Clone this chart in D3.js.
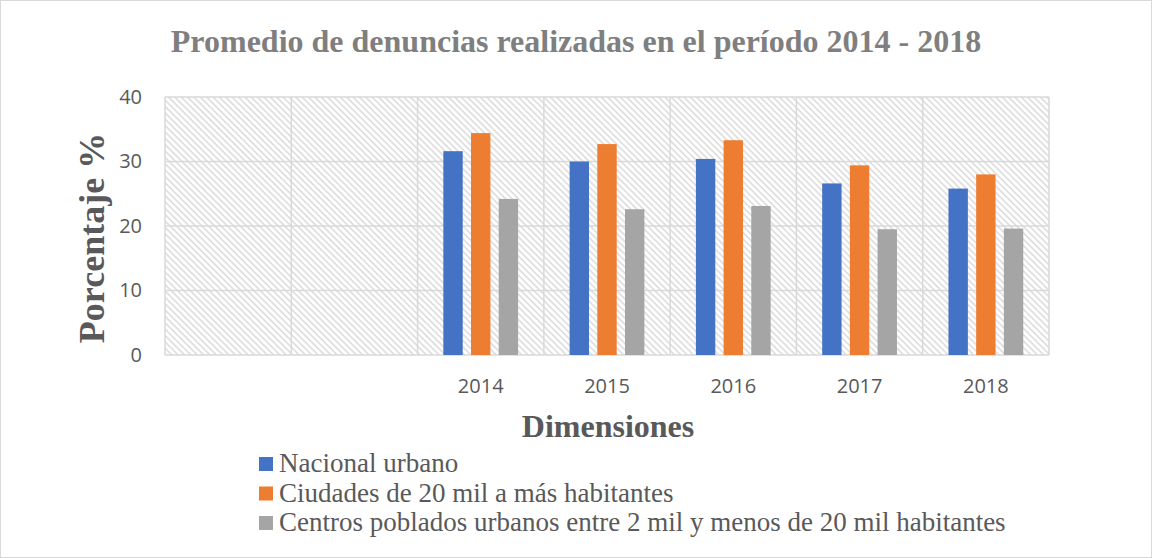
<!DOCTYPE html>
<html>
<head>
<meta charset="utf-8">
<script src="https://cdn.jsdelivr.net/npm/d3@7"></script>
<style>
  body { margin: 0; background: #fff; }
  svg { display: block; }
</style>
</head>
<body>
<script>
// categories (the first two are empty slots in the original chart)
var categories = ["", " ", "2014", "2015", "2016", "2017", "2018"]
var seriesNames = ["Nacional urbano",
                   "Ciudades de 20 mil a más habitantes",
                   "Centros poblados urbanos entre 2 mil y menos de 20 mil habitantes"]
var nacional = [null, null, 31.6, 30.0, 30.4, 26.6, 25.8]
var ciudades = [null, null, 34.4, 32.7, 33.3, 29.4, 28.0]
var centros  = [null, null, 24.2, 22.6, 23.1, 19.5, 19.6]
var yTicks = [0, 10, 20, 30, 40]
var colors = ["#4472c4", "#ed7d31", "#a5a5a5"]

const width = 1152
const height = 558
const pad = { top: 97, bottom: 203, left: 165, right: 103 }
const serif = "'Liberation Serif', 'Times New Roman', serif"
const sans = "'Open Sans', sans-serif"

var svg = d3.select("body").append("svg")
            .attr("width", width)
            .attr("height", height)

// hatch pattern for the plot background
var defs = svg.append("defs")
defs.append("pattern")
    .attr("id", "hatch")
    .attr("patternUnits", "userSpaceOnUse")
    .attr("width", 4.5)
    .attr("height", 4.5)
    .attr("patternTransform", "rotate(-45)")
    .append("line")
    .attr("x1", 1).attr("y1", 0)
    .attr("x2", 1).attr("y2", 4.5)
    .attr("stroke", "#d4d4d4")
    .attr("stroke-width", 1.3)

// outer frame
svg.append("rect")
   .attr("x", 0.5).attr("y", 0.5)
   .attr("width", width - 1).attr("height", height - 1)
   .attr("fill", "#fff")
   .attr("stroke", "#d9d9d9")

var x = d3.scaleBand()
          .domain(categories)
          .range([pad.left, width - pad.right])

var y = d3.scaleLinear()
          .domain([0, 40])
          .range([height - pad.bottom, pad.top])

var series = [nacional, ciudades, centros]
var xInner = d3.scaleBand()
               .domain(d3.range(series.length))
               .range([0, x.bandwidth()])
               .paddingInner(0.3)
               .paddingOuter(0.93)

// plot background
svg.append("rect")
   .attr("x", pad.left)
   .attr("y", pad.top)
   .attr("width", width - pad.left - pad.right)
   .attr("height", height - pad.top - pad.bottom)
   .attr("fill", "url(#hatch)")

// horizontal grid
svg.append("g")
   .selectAll("line")
   .data(yTicks)
   .join("line")
   .attr("x1", pad.left)
   .attr("x2", width - pad.right)
   .attr("y1", d => y(d))
   .attr("y2", d => y(d))
   .attr("stroke", "#d9d9d9")
   .attr("stroke-width", 1.5)

// vertical grid at category boundaries
var bounds = categories.map(c => x(c)).concat([width - pad.right])
svg.append("g")
   .selectAll("line")
   .data(bounds)
   .join("line")
   .attr("x1", d => d)
   .attr("x2", d => d)
   .attr("y1", pad.top)
   .attr("y2", height - pad.bottom)
   .attr("stroke", "#d9d9d9")
   .attr("stroke-width", 1.5)

// bars
series.forEach(function(vals, s) {
    svg.append("g")
       .selectAll("rect")
       .data(categories.map((c, i) => ({ cat: c, v: vals[i] })).filter(d => d.v != null))
       .join("rect")
       .attr("x", d => x(d.cat) + xInner(s))
       .attr("width", xInner.bandwidth())
       .attr("y", d => y(d.v))
       .attr("height", d => y(0) - y(d.v))
       .attr("fill", colors[s])
})

// y axis labels
var yAxis = svg.append("g")
               .attr("transform", `translate(${pad.left - 23},0)`)
               .call(d3.axisLeft(y).tickValues(yTicks).tickSize(0).tickPadding(0))
yAxis.select(".domain").remove()
yAxis.selectAll("text")
     .attr("font-family", sans)
     .attr("font-size", 20)
     .attr("fill", "#595959")

// x axis labels
var xAxis = svg.append("g")
               .attr("transform", `translate(0,${height - pad.bottom})`)
               .call(d3.axisBottom(x).tickSize(0))
xAxis.select(".domain").remove()
xAxis.selectAll("text")
     .attr("y", 38)
     .attr("dy", null)
     .attr("font-family", sans)
     .attr("font-size", 20)
     .attr("fill", "#595959")

// title
svg.append("text")
   .attr("x", 576)
   .attr("y", 52)
   .attr("text-anchor", "middle")
   .attr("font-family", serif)
   .attr("font-weight", "bold")
   .attr("font-size", 32)
   .attr("fill", "#7f7f7f")
   .text("Promedio de denuncias realizadas en el período 2014 - 2018")

// axis titles
svg.append("text")
   .attr("transform", "translate(104,238) rotate(-90)")
   .attr("text-anchor", "middle")
   .attr("font-family", serif)
   .attr("font-weight", "bold")
   .attr("font-size", 36)
   .attr("fill", "#595959")
   .text("Porcentaje %")

svg.append("text")
   .attr("x", 608)
   .attr("y", 437)
   .attr("text-anchor", "middle")
   .attr("font-family", serif)
   .attr("font-weight", "bold")
   .attr("font-size", 32)
   .attr("fill", "#595959")
   .text("Dimensiones")

// legend
var legend = svg.append("g")
                .selectAll("g")
                .data(seriesNames)
                .join("g")
                .attr("transform", (d, i) => `translate(259,${464 + i * 29.5})`)
legend.append("rect")
      .attr("x", 0).attr("y", -7)
      .attr("width", 14).attr("height", 14)
      .attr("fill", (d, i) => colors[i])
legend.append("text")
      .attr("x", 20)
      .attr("y", 8)
      .attr("font-family", serif)
      .attr("font-size", 27)
      .attr("fill", "#595959")
      .text(d => d)
</script>
</body>
</html>
